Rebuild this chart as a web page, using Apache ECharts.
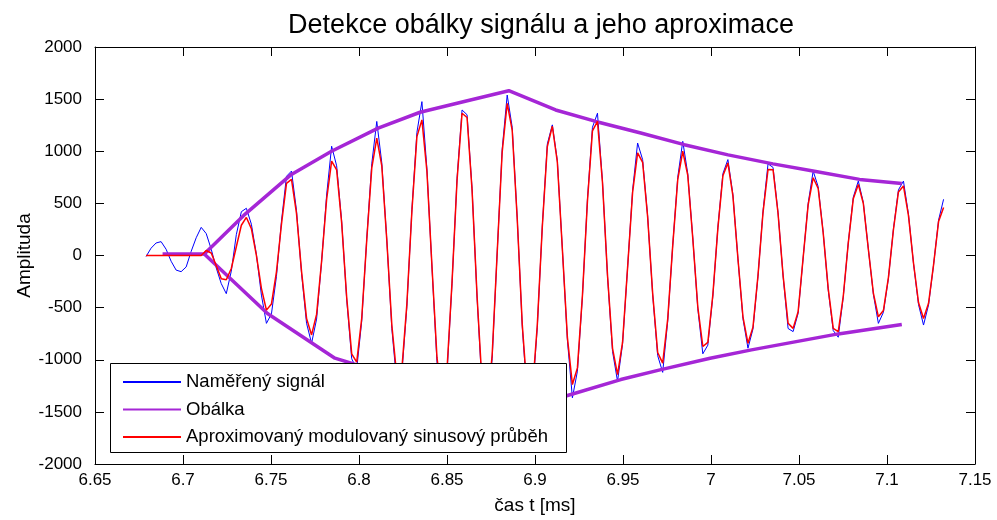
<!DOCTYPE html>
<html>
<head>
<meta charset="utf-8">
<title>Detekce obálky signálu</title>
<script src="https://cdn.jsdelivr.net/npm/echarts@6.0.0/dist/echarts.min.js"></script>
<style>
  html, body { margin: 0; padding: 0; background: #fff; }
  #main { width: 997px; height: 520px; }
</style>
</head>
<body>
<div id="main"></div>
<script>
// casova osa vzorku (ms)
var t0 = 6.679;
var dt = 0.00285;

// namereny signal (modra)
var measured = [
  -10, 70, 120, 133, 60, -55, -140, -155, -110, 40,
  170, 270, 210, 60, -120, -270, -366, -150, 200, 420,
  453, 300, 10, -380, -651, -560, -200, 330, 760, 810,
  430, -170, -650, -842, -610, -60, 580, 1048, 860, 330,
  -420, -990, -1090, -630, 160, 880, 1286, 890, 150, -700,
  -1230, -1130, -490, 440, 1180, 1476, 830, -110, -1020, -1440,
  -1130, -270, 740, 1396, 1350, 640, -410, -1280, -1510, -990,
  25, 1020, 1539, 1230, 360, -680, -1370, -1360, -690, 285,
  1070, 1253, 910, 62, -810, -1365, -1110, -395, 540, 1230,
  1365, 710, -200, -920, -1206, -850, -120, 625, 1079, 920,
  380, -375, -960, -1121, -630, 98, 750, 1095, 785, 170,
  -510, -943, -860, -390, 270, 785, 920, 585, -30, -605,
  -889, -705, -200, 425, 879, 845, 410, -195, -700, -730,
  -555, -25, 500, 810, 660, 222, -330, -720, -784, -400,
  125, 560, 714, 510, 62, -372, -651, -545, -220, 255,
  630, 714, 395, -75, -470, -667, -475, -92, 340, 539
];

// aproximovany modulovany sinus (cervena)
var approx = [
  0, 0, 0, 0, 0, 0, 0, 0, 0, 0,
  0, 0, 48, 24, -99, -223, -232, -125, 84, 290,
  365, 258, 2, -315, -524, -466, -157, 300, 692, 730,
  401, -152, -603, -762, -565, -55, 537, 905, 822, 313,
  -400, -943, -1023, -602, 148, 838, 1127, 860, 146, -667,
  -1161, -1090, -466, 424, 1140, 1301, 806, -101, -978, -1368,
  -1094, -258, 719, 1365, 1324, 625, -396, -1233, -1455, -957,
  21, 992, 1460, 1201, 353, -658, -1321, -1318, -669, 276,
  1045, 1240, 895, 60, -785, -1238, -1078, -383, 523, 1196,
  1286, 698, -191, -890, -1143, -832, -117, 605, 984, 894,
  370, -363, -930, -1032, -610, 95, 727, 1000, 768, 163,
  -494, -873, -833, -377, 260, 764, 888, 572, -29, -588,
  -842, -687, -192, 412, 825, 823, 403, -190, -650, -699,
  -540, -22, 486, 746, 643, 216, -318, -699, -730, -391,
  120, 545, 682, 499, 60, -360, -588, -528, -212, 247,
  610, 667, 383, -72, -451, -604, -458, -89, 325, 460
];

// obalka - horni a dolni vetev [t, amplituda]
var envUpper = [
  [6.6884, 15], [6.7121, 15], [6.7355, 400], [6.7616, 778], [6.7844, 1000],
  [6.8109, 1222], [6.8347, 1374], [6.8604, 1480], [6.8851, 1581], [6.9117, 1396],
  [6.9345, 1286], [6.9601, 1175], [6.9848, 1063], [7.0097, 965], [7.0352, 879],
  [7.058, 810], [7.0844, 730], [7.1084, 691]
];
var envLower = [
  [6.7121, 15], [6.748, -556], [6.7863, -985], [6.822, -1170], [6.86, -1290],
  [6.895, -1340], [6.918, -1345], [6.9487, -1190], [6.9716, -1095], [6.9995, -985],
  [7.023, -905], [7.0723, -752], [7.1084, -661]
];

var xMin = 6.65, xMax = 7.15, xStep = 0.05;
var yMin = -2000, yMax = 2000, yStep = 500;

function withTime(vals) {
  return vals.map(function (v, i) { return [+(t0 + i * dt).toFixed(5), v]; });
}

var font = 'Liberation Sans, Arial, sans-serif';
var purple = '#a526d6';

var myChart = echarts.init(document.getElementById('main'));

var axisCommon = {
  axisLine: { show: true, onZero: false, lineStyle: { color: '#000', width: 1 } },
  axisTick: { show: true, inside: true, length: 9, lineStyle: { color: '#000' } },
  splitLine: { show: false }
};

var option = {
  animation: false,
  backgroundColor: '#fff',
  title: {
    text: 'Detekce obálky signálu a jeho aproximace',
    left: 536, textAlign: 'center', top: 7,
    textStyle: { fontFamily: font, fontSize: 27, fontWeight: 'normal', color: '#000' }
  },
  grid: { left: 95, right: 22, top: 47, bottom: 52 },
  legend: {
    orient: 'vertical', left: 122, top: 372, padding: 0, z: 20,
    itemWidth: 58, itemHeight: 20, itemGap: 7.5,
    itemStyle: { opacity: 0 },
    textStyle: { fontFamily: font, fontSize: 18.5, lineHeight: 20, color: '#000' },
    data: ['Naměřený signál', 'Obálka', 'Aproximovaný modulovaný sinusový průběh']
  },
  graphic: [{
    type: 'rect', z: 10,
    shape: { x: 110.5, y: 363.5, width: 456, height: 89 },
    style: { fill: '#fff', stroke: '#000', lineWidth: 1 }
  }],
  xAxis: [
    Object.assign({
      type: 'value', min: xMin, max: xMax, interval: xStep,
      name: 'čas t [ms]', nameLocation: 'middle', nameGap: 32, nameMoveOverlap: false,
      nameTextStyle: { fontFamily: font, fontSize: 19, color: '#000' },
      axisLabel: {
        margin: 8, fontFamily: font, fontSize: 17, color: '#000',
        formatter: function (v) { return String(+v.toFixed(2)); }
      }
    }, axisCommon),
    Object.assign({
      type: 'value', position: 'top', min: xMin, max: xMax, interval: xStep,
      axisLabel: { show: false }
    }, axisCommon)
  ],
  yAxis: [
    Object.assign({
      type: 'value', min: yMin, max: yMax, interval: yStep,
      name: 'Amplituda', nameLocation: 'middle', nameGap: 61, nameMoveOverlap: false,
      nameTextStyle: { fontFamily: font, fontSize: 19, color: '#000' },
      axisLabel: {
        margin: 13, fontFamily: font, fontSize: 17, color: '#000',
        formatter: function (v) { return String(v); }
      }
    }, axisCommon),
    Object.assign({
      type: 'value', position: 'right', min: yMin, max: yMax, interval: yStep,
      axisLabel: { show: false }
    }, axisCommon)
  ],
  series: [
    {
      name: 'Naměřený signál', type: 'line', data: withTime(measured),
      symbol: 'none', showSymbol: false,
      lineStyle: { color: '#0000ff', width: 1 }, itemStyle: { color: '#0000ff' }
    },
    {
      name: 'Obálka', type: 'line', data: envUpper,
      symbol: 'none', showSymbol: false,
      lineStyle: { color: purple, width: 3.5 }, itemStyle: { color: purple }
    },
    {
      name: 'Obálka', type: 'line', data: envLower,
      symbol: 'none', showSymbol: false,
      lineStyle: { color: purple, width: 3.5 }, itemStyle: { color: purple }
    },
    {
      name: 'Aproximovaný modulovaný sinusový průběh', type: 'line', data: withTime(approx),
      symbol: 'none', showSymbol: false,
      lineStyle: { color: '#ff0000', width: 1.5 }, itemStyle: { color: '#ff0000' }
    }
  ]
};

myChart.setOption(option);
</script>
</body>
</html>
